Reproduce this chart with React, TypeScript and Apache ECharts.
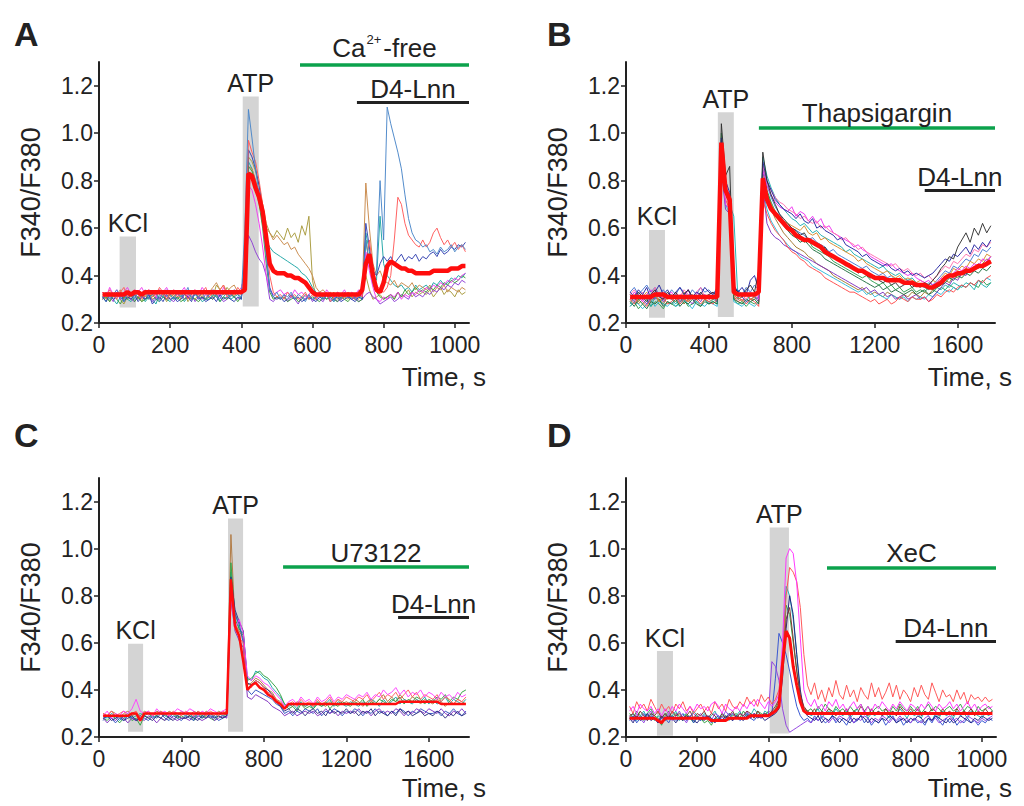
import React, { useEffect, useRef } from "react";
import * as echarts from "echarts";

const FONT = '"Liberation Sans", Arial, Helvetica, sans-serif';
const INK = "#222222";
const GREEN = "#0ca24c";
const BOX = "#d4d4d4";
const RED = "#ff0d0d";

const Y_TICKS = [0.2, 0.4, 0.6, 0.8, 1.0, 1.2];
const X_TICKS_SHORT = [0, 200, 400, 600, 800, 1000];
const X_TICKS_LONG = [0, 400, 800, 1200, 1600];

// ---------- Panel A (t = 10..1030 s, step 10 s; ratio x100) ----------
const A_T0 = 10, A_DT = 10;
const A_mean = [
  32,32,32,32,32,32,32,33,32,33, 33,32,33,33,33,33,33,33,33,33,
  33,33,33,33,33,33,33,33,33,33, 33,33,33,33,33,33,33,33,33,33,
  34,83,82,77,73,67,56,45,42,41, 41,41,40,40,39,39,38,37,35,33,
  32,32,32,32,32,32,32,32,32,32, 32,32,32,34,45,49,40,34,33,37,
  44,46,45,44,43,43,42,42,41,41, 41,41,41,42,42,42,42,42,43,43,
  43,44,44];
const A_blue = [
  31,33,30,32,34,31,29,33,32,30, 33,31,34,30,32,33,29,31,34,32,
  30,33,31,32,35,30,32,31,33,30, 32,34,31,30,33,32,31,34,32,31,
  60,110,98,85,74,62,48,34,31,33, 30,32,31,33,30,32,31,29,32,30,
  31,33,30,32,31,29,32,30,33,31, 32,30,31,33,55,45,40,42,80,55,
  111,104,98,92,85,74,64,58,55,54, 52,53,50,51,49,52,50,51,53,50,
  52,53,51];
const A_red = [
  33,31,34,32,30,33,35,31,32,34, 32,30,33,34,31,32,35,33,30,32,
  34,31,32,33,30,32,34,31,33,35, 31,33,32,34,36,31,33,32,35,33,
  40,97,92,88,80,70,55,40,33,31, 32,30,33,31,32,30,31,33,30,32,
  30,32,31,33,29,31,32,30,31,33, 31,30,32,31,45,55,43,36,34,33,
  35,40,55,73,70,62,57,55,53,52, 55,52,54,58,60,56,53,55,52,54,
  51,53,50];
const A_olive = [
  30,32,29,31,33,30,28,31,30,32, 31,29,32,30,31,33,30,32,29,31,
  32,30,31,33,29,31,30,32,31,30, 33,31,36,34,32,35,33,31,34,32,
  45,90,88,84,78,70,62,58,56,59, 57,55,60,56,58,54,61,57,65,38,
  31,33,30,32,31,33,30,32,31,30, 32,31,30,33,40,34,30,31,32,30,
  31,32,30,33,31,32,34,31,33,32, 33,32,34,31,33,35,32,34,33,31,
  34,32,33];
const A_teal = [
  31,29,32,30,28,31,33,30,29,31, 30,32,29,31,30,28,32,31,30,29,
  31,30,32,29,31,30,32,31,29,30, 30,32,31,29,31,33,30,31,32,30,
  50,88,85,80,72,62,55,52,50,49, 48,47,46,45,44,43,41,40,38,35,
  33,31,32,30,31,29,32,30,31,32, 30,31,32,30,58,50,40,38,65,45,
  40,38,36,35,36,34,35,33,36,34, 35,36,34,37,36,38,36,37,39,38,
  40,39,41];
const A_purple = [
  30,32,31,29,33,30,31,32,30,29, 31,33,30,32,29,31,30,33,31,30,
  29,31,33,30,31,32,29,31,30,32, 31,30,32,31,29,30,32,31,30,31,
  40,57,54,50,47,45,40,30,29,31, 30,32,29,31,30,28,31,30,32,29,
  31,30,29,32,30,31,29,30,32,31, 30,31,29,30,32,33,31,30,28,29,
  30,31,29,30,32,31,30,33,31,32, 31,33,32,34,33,35,34,36,35,37,
  36,38,37];
const A_brown = [
  32,30,33,31,32,34,30,32,31,33, 30,32,31,33,30,31,34,32,30,33,
  31,33,30,32,31,30,33,31,32,30, 33,35,37,34,36,33,35,36,33,34,
  42,86,85,80,75,68,60,58,55,57, 55,53,54,51,52,49,47,45,43,40,
  35,33,34,32,33,31,33,32,31,33, 32,31,33,34,79,60,45,40,42,38,
  37,36,38,35,37,36,35,37,34,36, 35,34,36,33,35,34,36,33,35,34,
  33,35,34];
const A_navy = [
  31,29,32,30,31,33,29,31,30,32, 29,31,30,32,28,30,31,29,32,30,
  31,29,30,32,31,29,33,30,31,29, 30,31,29,32,30,31,30,29,31,30,
  45,93,90,85,78,68,50,35,31,30, 31,29,30,32,30,31,29,30,31,30,
  29,31,30,32,29,30,31,29,30,31, 30,29,31,30,62,52,42,40,45,48,
  46,48,45,47,49,46,48,47,49,46, 48,47,49,50,48,51,49,50,52,51,
  53,52,54];
const A_green = [
  30,31,29,32,30,28,31,30,32,29, 31,29,30,31,32,30,29,31,30,32,
  30,31,29,30,32,31,30,29,31,30, 31,30,32,29,31,30,32,31,29,31,
  44,86,84,78,70,60,45,33,30,31, 30,31,29,30,31,29,30,32,30,31,
  30,29,31,30,32,30,29,31,30,29, 31,30,29,30,55,45,36,33,31,30,
  31,32,30,33,31,34,32,33,35,33, 34,33,35,34,36,35,37,36,38,37,
  38,40,39];
const A_magenta = [
  33,31,35,32,34,31,33,35,32,34, 33,35,32,34,33,31,34,33,35,32,
  34,32,33,35,31,33,34,32,35,33, 32,34,33,31,35,33,32,34,33,35,
  40,78,76,70,62,52,40,34,32,33, 34,32,33,31,34,32,33,31,32,34,
  32,33,31,34,32,31,33,32,34,31, 33,32,34,31,50,42,35,30,29,31,
  30,32,31,33,30,32,31,33,32,34, 33,35,34,36,35,37,36,38,37,39,
  38,40,41];
// boxes: [t start, t end, ratio bottom, ratio top]; bars: [t start, t end, ratio]
const A_KCL = [58, 104, 0.265, 0.565];
const A_ATP = [404, 449, 0.27, 1.155];
const A_BAR_GREEN = [565, 1040, 1.29];
const A_BAR_BLACK = [725, 1040, 1.13];

// ---------- Panel B (t = 20..1760 s, step 20 s) ----------
const B_T0 = 20, B_DT = 20;
const B_mean = [
  31,31,31,31,31,31,32,32,32,31, 31,31,31,31,31,31,31,31,31,31,
  31,31,96,76,72,33,32,32,32,32, 32,33,81,72,68,66,64,62,60,59,
  57,56,55,55,54,53,52,50,49,48, 47,46,45,44,43,42,42,41,40,39,
  39,39,38,38,38,38,37,37,37,36, 36,36,35,35,36,37,39,40,40,41,
  41,42,42,43,44,44,45,46];
const B_navy = [
  33,31,34,32,35,30,33,36,32,34, 31,33,35,32,34,31,33,32,35,33,
  32,34,98,80,75,36,33,35,32,38, 40,34,88,80,76,72,70,68,67,66,
  64,66,63,62,64,60,61,59,58,57, 55,56,53,52,51,50,48,49,47,46,
  45,44,45,43,42,43,41,42,40,41, 40,39,40,41,43,45,47,46,49,48,
  50,52,49,53,51,54,52,55];
const B_magenta = [
  30,33,31,29,32,34,31,33,30,32, 33,30,32,31,34,30,33,31,32,30,
  31,33,92,70,68,34,31,32,33,31, 33,30,84,78,74,71,69,68,67,69,
  65,67,66,63,65,62,64,60,61,58, 57,56,55,54,52,53,51,50,48,47,
  46,45,44,45,43,42,41,40,41,39, 38,37,38,36,37,39,38,40,41,43,
  42,44,43,45,44,47,46,48];
const B_teal = [
  28,31,29,32,30,27,31,29,30,32, 30,28,31,29,32,30,29,31,30,28,
  30,29,94,78,70,65,30,31,29,32, 31,30,90,82,77,73,70,68,66,64,
  63,61,62,60,58,59,57,56,55,54, 53,52,50,51,49,48,47,46,45,44,
  43,44,42,41,40,41,39,38,39,37, 36,35,34,36,35,34,36,35,37,36,
  35,37,36,34,38,36,35,37];
const B_red = [
  30,28,31,29,27,30,32,29,31,28, 29,31,28,30,29,31,30,28,30,29,
  28,30,88,72,68,31,29,30,28,30, 29,27,72,66,62,59,57,55,52,50,
  49,47,46,44,43,42,41,39,38,37, 36,35,34,33,33,32,31,30,29,30,
  28,29,30,28,29,31,30,29,31,30, 30,31,29,30,32,31,33,34,33,35,
  36,35,37,36,38,37,39,40];
const B_green = [
  27,29,26,28,30,27,29,28,26,29, 28,27,29,30,27,28,29,27,30,28,
  29,28,100,74,70,30,28,29,27,29, 28,30,86,76,71,67,64,62,60,58,
  57,56,54,55,52,51,50,49,48,46, 45,44,43,42,41,40,39,40,38,37,
  36,37,35,36,34,35,33,34,35,33, 34,33,35,34,33,35,34,36,35,34,
  36,35,37,36,35,38,36,37];
const B_purple = [
  31,29,32,30,28,31,30,32,29,31, 30,32,29,31,30,28,31,29,32,30,
  31,29,85,68,66,32,30,31,29,30, 31,29,78,62,58,56,55,53,52,51,
  50,49,48,47,46,45,44,43,42,41, 40,39,38,37,36,35,34,35,33,34,
  32,33,31,32,30,31,32,30,31,32, 30,31,29,31,33,35,37,36,39,38,
  41,40,43,42,45,44,46,48];
const B_black = [
  32,30,33,31,29,32,34,31,30,33, 31,33,30,32,34,31,30,33,31,32,
  33,31,104,82,86,35,33,31,34,36, 33,42,92,80,74,70,66,64,62,60,
  59,57,58,55,54,53,51,52,49,48, 47,46,44,45,43,41,42,40,39,40,
  38,37,38,36,37,35,36,37,35,36, 35,37,36,38,40,43,45,48,47,52,
  55,58,54,60,57,62,58,61];
const B_olive = [
  29,31,28,30,32,29,31,30,28,31, 30,29,31,28,30,32,29,31,30,29,
  30,31,90,74,71,30,31,29,32,30, 30,31,80,72,68,64,61,58,56,54,
  52,51,50,48,47,45,44,43,42,40, 39,38,37,36,35,34,35,33,32,33,
  32,31,33,32,31,30,32,31,33,32, 31,33,32,34,35,36,38,37,40,39,
  41,43,42,44,43,45,47,46];
const B_blue = [
  33,35,32,34,36,33,35,32,34,31, 34,32,35,33,31,34,32,35,33,34,
  32,35,96,78,73,33,34,32,35,33, 36,34,86,78,73,69,66,63,61,60,
  59,58,57,55,56,54,53,52,50,51, 49,48,47,46,45,44,43,44,42,41,
  40,41,39,40,38,39,37,38,36,37, 36,35,37,36,38,40,42,41,44,43,
  45,47,46,49,48,51,50,52];
const B_orange = [
  30,32,29,31,33,30,32,29,31,30, 32,30,31,33,29,31,30,32,30,31,
  30,32,88,75,72,32,30,31,33,30, 31,32,82,74,70,67,65,63,62,61,
  60,59,61,58,57,58,55,56,54,53, 52,51,50,49,48,46,47,45,44,43,
  42,41,42,40,39,40,38,39,38,37, 38,37,36,38,37,39,41,40,43,42,
  44,43,46,45,47,46,49,48];
const B_cyan = [
  27,29,28,26,28,30,27,29,28,27, 29,27,28,30,28,26,29,28,27,29,
  28,27,86,70,66,29,28,27,29,28, 27,29,76,68,63,60,57,55,53,51,
  50,48,47,46,44,43,42,41,40,39, 38,37,36,35,34,33,34,32,33,31,
  32,31,30,32,31,30,31,29,31,30, 31,30,32,31,33,32,34,33,35,34,
  36,35,37,36,38,37,39,38];
const B_pink = [
  32,34,31,33,30,32,35,31,33,32, 30,33,31,34,32,30,33,35,31,32,
  33,31,90,73,70,33,31,32,30,33, 32,34,86,80,76,73,71,70,68,67,
  66,64,65,63,62,63,60,61,59,58, 57,55,56,54,53,51,52,50,49,48,
  47,46,45,44,45,43,42,43,41,40, 41,39,40,38,40,42,44,43,46,45,
  47,49,48,51,50,53,52,54];
const B_darkgreen = [
  29,27,30,28,26,29,28,30,27,29, 28,30,27,29,28,30,28,27,29,28,
  29,28,95,77,71,30,29,28,30,29, 30,28,84,75,70,66,63,61,59,57,
  56,54,55,53,51,50,49,47,46,45, 44,43,42,41,40,39,38,37,36,35,
  36,34,35,33,34,33,32,33,34,32, 33,34,32,33,35,36,37,39,38,40,
  39,41,40,42,41,43,42,44];
const B_KCL = [111, 188, 0.222, 0.592];
const B_ATP = [443, 520, 0.225, 1.088];
const B_BAR_GREEN = [641, 1780, 1.025];
const B_BAR_BLACK = [1441, 1780, 0.76];

// ---------- Panel C (t = 20..1780 s, step 20 s) ----------
const C_T0 = 20, C_DT = 20;
const C_mean = [
  29,29,29,29,29,29,29,30,30,27, 30,30,30,30,30,30,30,30,30,30,
  30,30,30,30,30,30,30,30,30,30, 30,87,67,63,52,40,42,43,41,40,
  38,37,35,34,32,34,34,34,34,34, 34,34,34,34,34,34,34,34,34,34,
  34,34,34,34,34,34,34,34,34,34, 34,34,35,35,35,35,35,35,35,35,
  35,35,34,34,34,34,34,34,34];
const C_magenta = [
  29,31,28,30,29,31,30,32,36,31, 30,31,29,32,30,31,29,30,32,31,
  30,32,31,29,31,30,32,31,30,31, 32,80,66,70,64,46,44,46,45,43,
  42,40,38,36,33,35,36,34,37,35, 36,34,37,35,36,38,35,37,36,38,
  37,36,38,37,39,36,38,37,40,38, 39,41,38,40,37,39,38,40,37,39,
  38,36,39,37,38,36,39,37,38];
const C_green = [
  28,27,29,28,26,28,29,27,28,25, 29,28,30,29,28,27,29,30,28,29,
  28,29,27,30,28,29,28,27,29,28, 30,94,70,66,63,44,45,47,48,46,
  45,43,41,38,34,32,33,31,34,32, 33,32,34,33,35,32,34,33,35,34,
  33,35,34,36,33,35,34,36,35,34, 36,35,37,34,36,35,37,36,34,36,
  35,37,36,38,35,37,36,39,40];
const C_blue = [
  27,29,28,26,28,27,29,28,27,29, 28,27,29,28,30,28,27,29,28,27,
  29,28,27,29,28,30,28,29,27,28, 29,82,72,68,60,40,38,40,39,38,
  37,36,34,33,30,31,29,31,30,32, 31,30,32,29,31,30,32,31,29,31,
  30,32,31,29,31,30,32,30,31,29, 31,30,32,31,29,31,30,32,31,30,
  30,31,29,31,30,32,30,29,31];
const C_brown = [
  30,29,31,30,28,30,31,29,30,29, 31,30,29,31,30,29,31,30,29,31,
  30,29,31,30,29,31,30,29,31,30, 31,106,68,65,62,42,43,45,44,42,
  40,39,36,35,33,34,33,35,34,33, 34,33,35,34,33,35,34,36,34,35,
  34,36,35,33,35,36,34,36,38,35, 37,35,38,36,35,37,36,34,36,35,
  34,36,35,33,35,34,36,35,34];
const C_purple = [
  28,26,28,27,29,28,26,28,27,28, 27,29,28,26,28,27,29,28,27,28,
  28,27,29,28,27,28,29,27,28,29, 28,78,65,61,58,37,36,38,37,36,
  35,33,32,31,29,30,31,29,30,31, 30,31,29,30,32,30,31,29,31,30,
  31,30,32,30,31,29,31,32,30,31, 30,32,31,29,31,30,32,31,30,32,
  31,30,32,30,29,31,30,32,30];
const C_teal = [
  29,28,30,29,27,29,30,28,29,30, 29,30,28,29,31,29,28,30,29,30,
  29,30,28,31,29,30,29,28,30,29, 30,90,73,66,64,45,44,48,47,45,
  44,41,39,37,34,33,34,32,35,33, 34,32,35,33,34,36,33,35,34,33,
  35,34,33,35,34,36,35,33,36,34, 35,37,34,36,35,34,36,35,37,34,
  36,34,35,37,34,36,35,34,36];
const C_red = [
  30,29,31,29,30,31,29,30,31,28, 30,31,29,30,31,30,29,31,30,29,
  31,30,29,31,30,29,31,30,29,31, 30,84,66,62,60,41,41,44,43,41,
  39,38,36,34,32,34,35,33,36,34, 35,33,36,34,35,37,34,36,35,37,
  36,35,37,36,38,35,37,39,36,38, 37,39,36,38,40,37,39,36,38,37,
  36,38,35,37,36,34,36,35,37];
const C_navy = [
  28,29,27,28,29,27,28,29,27,28, 29,28,27,29,28,30,28,27,29,28,
  28,29,28,27,29,28,30,28,29,28, 29,88,74,69,65,43,42,44,43,41,
  40,38,35,33,31,32,30,32,31,29, 31,32,30,31,29,32,30,31,30,32,
  30,31,29,31,30,32,29,31,30,29, 31,29,32,30,31,29,30,31,29,30,
  29,31,30,28,30,29,31,29,30];
const C_KCL = [141, 214, 0.222, 0.596];
const C_ATP = [626, 699, 0.222, 1.128];
const C_BAR_GREEN = [893, 1795, 0.923];
const C_BAR_BLACK = [1451, 1795, 0.71];

// ---------- Panel D (t = 10..1030 s, step 10 s) ----------
const D_T0 = 10, D_DT = 10;
const D_mean = [
  28,28,28,28,28,28,28,28,27,26, 28,28,28,28,28,28,28,28,28,28,
  28,28,28,27,27,27,27,27,28,28, 28,28,28,28,29,29,29,29,29,29,
  30,31,33,51,65,62,50,42,35,31, 30,30,30,30,30,30,30,30,30,30,
  30,30,30,30,30,30,30,30,30,30, 30,30,30,30,30,30,30,30,30,30,
  30,30,30,30,30,30,30,30,30,30, 30,30,30,30,30,30,30,30,30,30,
  30,30,30];
const D_magenta = [
  31,33,30,34,32,31,33,30,32,29, 32,30,33,31,34,32,30,33,31,34,
  32,33,31,34,35,33,30,34,32,31, 33,31,34,32,35,33,36,34,32,35,
  33,35,38,60,96,100,98,85,62,40, 35,33,36,32,34,31,35,33,36,32,
  34,31,33,35,32,34,30,33,31,34, 32,35,33,31,34,32,35,33,31,34,
  33,31,34,32,35,33,31,34,32,33, 35,32,34,31,33,35,32,34,31,33,
  34,32,33];
const D_red = [
  33,30,35,32,34,31,36,33,30,34, 31,33,30,34,32,35,31,33,30,32,
  34,31,33,30,35,32,34,31,36,33, 32,35,33,37,34,36,33,38,35,37,
  34,36,40,55,80,92,90,86,75,55, 42,38,43,36,40,35,41,37,44,38,
  36,42,37,40,35,41,38,36,43,37, 41,36,39,43,37,42,36,40,38,35,
  41,37,42,38,36,43,39,35,40,37, 38,35,40,36,39,34,38,36,37,35,
  37,35,36];
const D_teal = [
  28,30,27,29,31,28,30,27,29,28, 30,28,29,31,27,29,30,28,31,29,
  27,30,28,29,31,28,30,29,27,30, 29,31,28,30,29,32,30,28,31,30,
  29,31,34,55,84,80,70,55,38,32, 31,29,30,32,28,30,31,29,32,30,
  29,31,28,30,32,29,31,28,30,29, 31,29,30,28,31,29,32,30,28,31,
  29,30,28,31,29,27,30,28,31,29, 30,28,31,29,30,28,31,30,29,28,
  30,29,31];
const D_green = [
  30,28,31,29,27,30,32,29,28,25, 29,31,28,30,29,27,30,28,26,29,
  28,26,27,25,28,27,29,28,30,29, 30,28,31,29,30,28,31,30,29,31,
  30,32,35,52,76,72,60,48,36,32, 31,32,30,33,31,34,32,30,33,31,
  32,30,33,31,32,34,31,33,30,32, 33,31,32,30,33,31,34,32,31,33,
  31,33,30,32,34,31,33,32,30,32, 33,31,32,34,31,33,32,30,33,31,
  32,33,31];
const D_blue = [
  27,29,26,28,30,27,29,28,26,28, 28,26,29,27,28,30,27,29,26,28,
  27,29,28,26,28,29,27,28,30,27, 29,27,28,30,28,27,29,28,30,29,
  30,45,64,60,55,48,40,33,29,27, 28,26,29,27,28,26,27,29,26,28,
  27,25,28,26,27,29,26,28,25,27, 26,28,25,27,29,26,28,25,27,26,
  28,26,27,25,28,26,29,27,25,28, 26,28,25,27,26,28,26,27,25,27,
  26,28,27];
const D_purple = [
  29,27,30,28,26,29,31,28,27,29, 28,30,27,29,31,28,26,29,30,28,
  30,28,29,27,30,29,28,31,29,30, 28,30,29,31,28,30,29,28,30,29,
  52,50,44,32,25,22,23,24,25,26, 27,26,28,27,29,28,26,28,27,29,
  28,27,29,26,28,27,29,28,26,28, 27,29,28,26,28,27,29,27,28,26,
  28,27,26,28,29,27,28,26,27,28, 29,27,28,26,27,29,28,27,26,28,
  27,28,29];
const D_maroon = [
  29,30,28,31,29,27,30,29,31,28, 30,28,31,29,30,28,29,31,28,30,
  29,31,28,30,29,27,30,28,29,31, 28,30,29,31,30,28,31,29,30,29,
  31,33,36,50,70,75,62,48,38,33, 31,30,32,29,31,30,32,31,29,31,
  30,32,29,31,30,33,31,29,32,30, 31,29,32,30,31,29,33,31,30,32,
  30,32,29,31,30,32,31,29,32,30, 31,29,32,30,31,30,32,29,31,30,
  32,30,31];
const D_navy = [
  28,26,29,27,28,30,27,28,26,29, 27,29,28,26,28,27,29,28,27,26,
  28,27,29,28,26,28,27,29,28,27, 29,28,27,29,28,30,28,29,27,28,
  29,30,32,45,66,80,72,55,40,31, 29,28,27,29,26,28,27,29,28,26,
  28,27,26,28,27,29,28,26,28,27, 26,28,27,29,28,26,27,28,26,28,
  27,29,28,26,28,27,29,28,27,26, 28,26,27,29,28,27,26,28,27,29,
  28,27,28];
const D_KCL = [87, 132, 0.205, 0.565];
const D_ATP = [404, 458, 0.215, 1.09];
const D_BAR_GREEN = [565, 1040, 0.92];
const D_BAR_BLACK = [758, 1040, 0.607];

// ---------- layout ----------
const panels = [
  {
    letter: "A", letterPos: [14, 34], timePos: [486, 377],
    grid: { left: 99, top: 62, width: 370, height: 261 }, xMax: 1040, xTicks: X_TICKS_SHORT,
    t0: A_T0, dt: A_DT, mean: A_mean, meanWidth: 4.5,
    traces: [
      [A_olive, "#a89a3c"], [A_teal, "#1fa5a5"], [A_brown, "#c8894a"], [A_purple, "#8f3fd6"],
      [A_green, "#3c9c3c"], [A_magenta, "#f03cf0"], [A_navy, "#3340b0"], [A_red, "#ff5a5a"], [A_blue, "#4a86c8"],
    ],
    kcl: A_KCL, atp: A_ATP, green: A_BAR_GREEN, black: A_BAR_BLACK,
    greenLabel: "{n|Ca}{s|2+}{n|-free}", blackLabel: "D4-Lnn",
  },
  {
    letter: "B", letterPos: [547, 34], timePos: [1012, 377],
    grid: { left: 626, top: 62, width: 369, height: 261 }, xMax: 1780, xTicks: X_TICKS_LONG,
    t0: B_T0, dt: B_DT, mean: B_mean, meanWidth: 4.5,
    traces: [
      [B_olive, "#a07830"], [B_green, "#2f9e50"], [B_cyan, "#30b8d8"], [B_teal, "#1fb0b0"], [B_purple, "#8030c0"],
      [B_red, "#ff4a4a"], [B_darkgreen, "#1f6f3f"], [B_blue, "#4878d0"], [B_orange, "#d88a2a"],
      [B_magenta, "#f030f0"], [B_pink, "#ff70b0"], [B_navy, "#2424a0"], [B_black, "#303030"],
    ],
    kcl: B_KCL, atp: B_ATP, green: B_BAR_GREEN, black: B_BAR_BLACK,
    greenLabel: "Thapsigargin", blackLabel: "D4-Lnn",
  },
  {
    letter: "C", letterPos: [14, 435], timePos: [486, 788],
    grid: { left: 99, top: 478, width: 370, height: 259 }, xMax: 1795, xTicks: X_TICKS_LONG,
    t0: C_T0, dt: C_DT, mean: C_mean, meanWidth: 2.5,
    traces: [
      [C_brown, "#b07840"], [C_teal, "#20a8a8"], [C_green, "#30a040"], [C_blue, "#3050c0"],
      [C_purple, "#8030c0"], [C_navy, "#303080"], [C_red, "#ff6060"], [C_magenta, "#ff40ff"],
    ],
    kcl: C_KCL, atp: C_ATP, green: C_BAR_GREEN, black: C_BAR_BLACK,
    greenLabel: "U73122", blackLabel: "D4-Lnn",
  },
  {
    letter: "D", letterPos: [547, 435], timePos: [1012, 788],
    grid: { left: 626, top: 478, width: 370, height: 259 }, xMax: 1040, xTicks: X_TICKS_SHORT,
    t0: D_T0, dt: D_DT, mean: D_mean, meanWidth: 3,
    traces: [
      [D_teal, "#20b0b0"], [D_green, "#30a040"], [D_blue, "#3050d0"], [D_purple, "#9040e0"],
      [D_navy, "#202080"], [D_maroon, "#803030"], [D_red, "#ff5050"], [D_magenta, "#ff30ff"],
    ],
    kcl: D_KCL, atp: D_ATP, green: D_BAR_GREEN, black: D_BAR_BLACK,
    greenLabel: "XeC", blackLabel: "D4-Lnn",
  },
];

function pairs(vals: number[], t0: number, dt: number) {
  return vals.map((v, i) => [t0 + i * dt, v / 100]);
}

function buildOption() {
  const grid: any[] = [];
  const xAxis: any[] = [];
  const yAxis: any[] = [];
  const series: any[] = [];
  const graphic: any[] = [];

  panels.forEach((p, i) => {
    grid.push({ ...p.grid, containLabel: false, outerBoundsMode: "none" });
    xAxis.push({
      gridIndex: i, type: "value", min: 0, max: p.xMax,
      axisLine: { show: true, onZero: false, lineStyle: { color: INK, width: 2 } },
      axisTick: { show: true, inside: false, length: 5, customValues: p.xTicks, lineStyle: { color: INK, width: 1.5 } },
      axisLabel: { customValues: p.xTicks, fontSize: 23, color: INK, fontFamily: FONT, margin: 10, formatter: (v: number) => String(v) },
      splitLine: { show: false },
    });
    yAxis.push({
      gridIndex: i, type: "value", min: 0.2, max: 1.3,
      name: "F340/F380", nameLocation: "middle", nameGap: 55,
      nameTextStyle: { fontSize: 27, color: INK, fontFamily: FONT },
      axisLine: { show: true, onZero: false, lineStyle: { color: INK, width: 2 } },
      axisTick: { show: true, inside: false, length: 5, customValues: Y_TICKS, lineStyle: { color: INK, width: 1.5 } },
      axisLabel: { customValues: Y_TICKS, fontSize: 23, color: INK, fontFamily: FONT, margin: 6, formatter: (v: number) => v.toFixed(1) },
      splitLine: { show: false },
    });

    const labelBase = { show: true, color: INK, fontSize: 26, fontFamily: FONT };
    p.traces.forEach(([vals, color], j) => {
      const s: any = {
        type: "line", xAxisIndex: i, yAxisIndex: i, data: pairs(vals as number[], p.t0, p.dt),
        showSymbol: false, symbol: "none", silent: true, z: 2,
        lineStyle: { width: 1, color: color as string, opacity: 0.95 }, itemStyle: { color: color as string },
      };
      if (j === 0) {
        s.markArea = {
          silent: true,
          itemStyle: { color: BOX, opacity: 1 },
          label: { ...labelBase, fontSize: 25, position: "top", distance: 1 },
          data: [
            [{ name: "KCl", coord: [p.kcl[0], p.kcl[3]] }, { coord: [p.kcl[1], p.kcl[2]] }],
            [{ name: "ATP", coord: [p.atp[0], p.atp[3]] }, { coord: [p.atp[1], p.atp[2]] }],
          ],
        };
        s.markLine = {
          silent: true, symbol: ["none", "none"],
          data: [
            [
              {
                coord: [p.green[0], p.green[2]],
                lineStyle: { color: GREEN, width: 3.5, type: "solid" },
                label: {
                  ...labelBase, position: "insideMiddleTop", distance: 1, formatter: p.greenLabel,
                  rich: {
                    n: { fontSize: 26, color: INK, fontFamily: FONT, lineHeight: 30 },
                    s: { fontSize: 13, color: INK, fontFamily: FONT, verticalAlign: "top", lineHeight: 30, padding: [0, 2, 14, 1] },
                  },
                },
              },
              { coord: [p.green[1], p.green[2]] },
            ],
            [
              {
                coord: [p.black[0], p.black[2]],
                lineStyle: { color: INK, width: 3, type: "solid" },
                label: { ...labelBase, position: "insideMiddleTop", distance: 0, formatter: p.blackLabel },
              },
              { coord: [p.black[1], p.black[2]] },
            ],
          ],
        };
      }
      series.push(s);
    });
    series.push({
      type: "line", xAxisIndex: i, yAxisIndex: i, data: pairs(p.mean, p.t0, p.dt),
      showSymbol: false, symbol: "none", silent: true, z: 4,
      lineStyle: { width: p.meanWidth, color: RED }, itemStyle: { color: RED },
    });

    graphic.push({
      type: "text", x: p.letterPos[0], y: p.letterPos[1], silent: true,
      style: { text: p.letter, fill: INK, font: `bold 34px ${FONT}`, textAlign: "left", textVerticalAlign: "middle", align: "left", verticalAlign: "middle" },
    });
    graphic.push({
      type: "text", x: p.timePos[0], y: p.timePos[1], silent: true,
      style: { text: "Time, s", fill: INK, font: `26px ${FONT}`, textAlign: "right", textVerticalAlign: "middle", align: "right", verticalAlign: "middle" },
    });
  });

  return { animation: false, backgroundColor: "#ffffff", grid, xAxis, yAxis, series, graphic };
}

export default function App() {
  const ref = useRef<HTMLDivElement>(null);
  useEffect(() => {
    if (!ref.current) return;
    const chart = echarts.init(ref.current, undefined, { renderer: "svg" });
    chart.setOption(buildOption());
    return () => chart.dispose();
  }, []);
  return (
    <div
      ref={ref}
      style={{ position: "absolute", left: 0, top: 0, width: 1024, height: 806, background: "#fff" }}
    />
  );
}
